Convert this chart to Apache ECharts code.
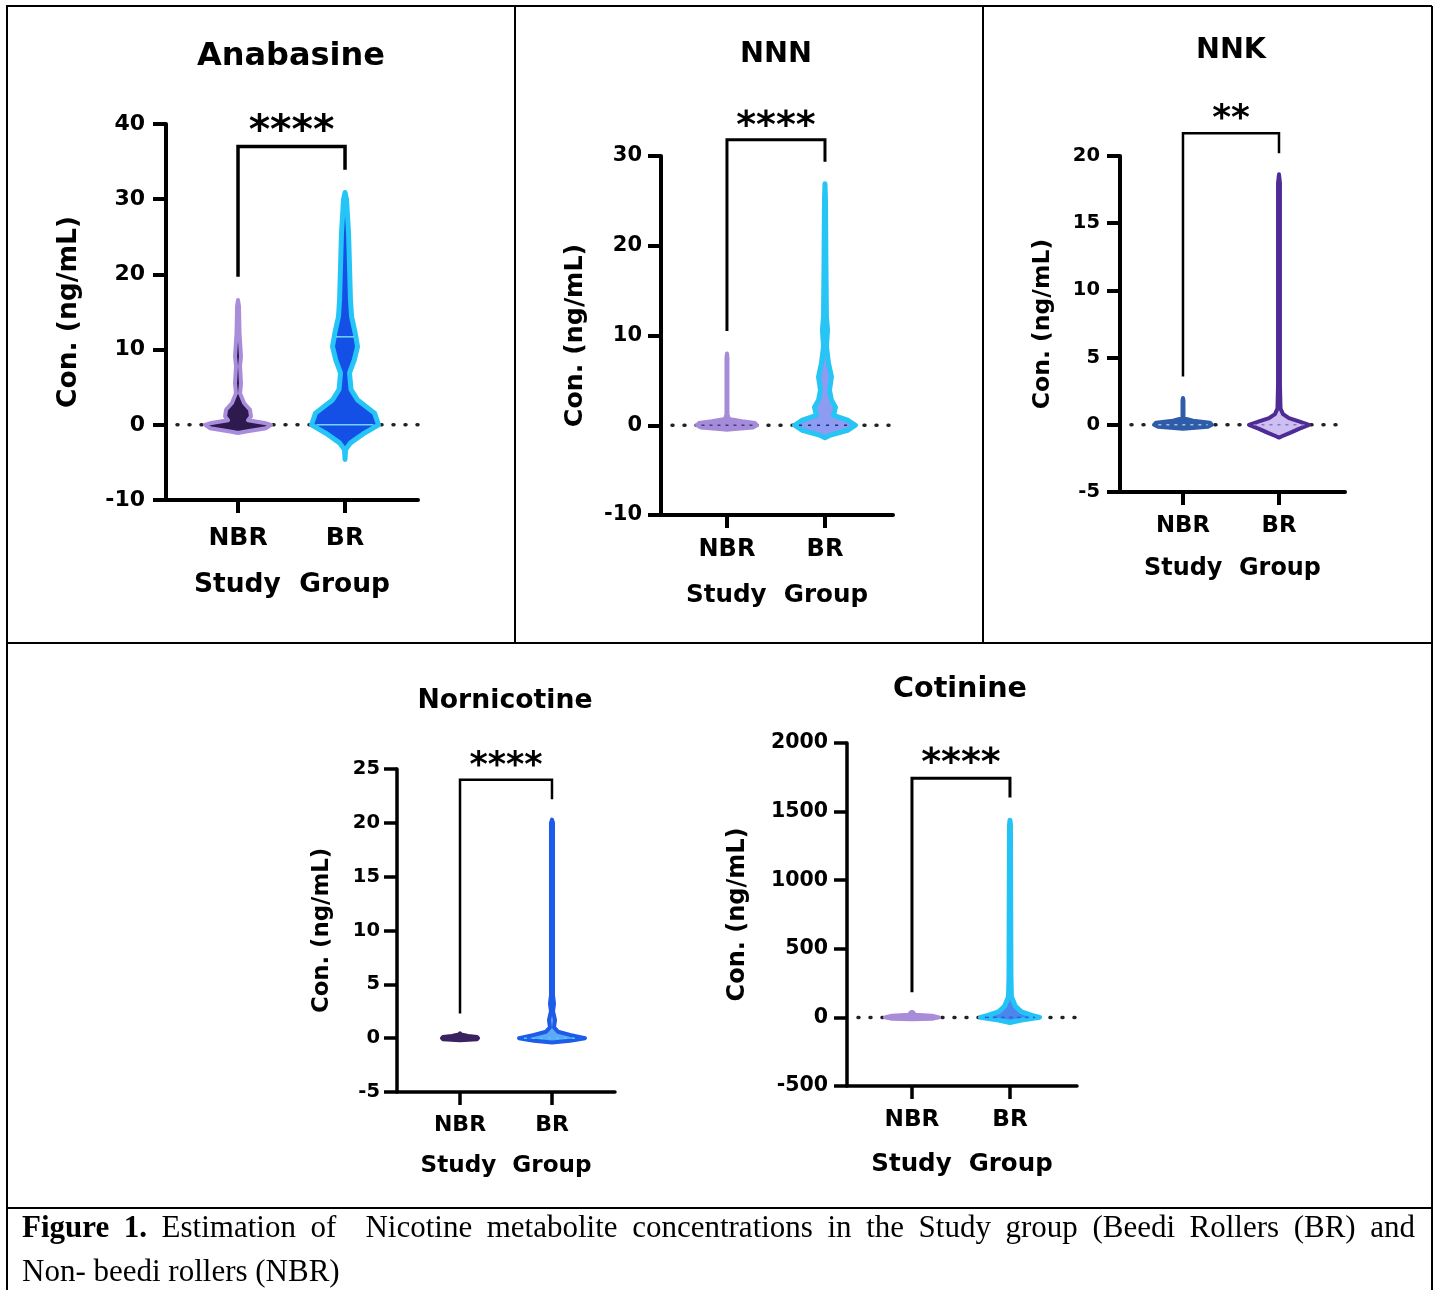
<!DOCTYPE html>
<html><head><meta charset="utf-8">
<script src="https://cdn.jsdelivr.net/npm/echarts@6/dist/echarts.min.js"></script>
<style>html,body{margin:0;padding:0;background:#fff}#c{width:1438px;height:1290px}</style>
</head><body><div id="c"></div>
<script>
// ---------------- DATA ----------------
const groups = ['NBR', 'BR'];
const panelTitles = ['Anabasine', 'NNN', 'NNK', 'Nornicotine', 'Cotinine'];
const yAxisName = 'Con. (ng/mL)';
const xAxisName = 'Study  Group';
const yMin = [-10, -10, -5, -5, -500];
const yMax = [40, 30, 20, 25, 2000];
const yStep = [10, 10, 5, 5, 500];
const sigLabels = ['****', '****', '**', '****', '****'];
const bracketLeft = [19.7, 10.5, 3.6, 2.3, 183];
const bracketTop = [37.0, 31.8, 21.7, 24.0, 1743];
const bracketRight = [33.9, 29.35, 20.2, 22.2, 1602];

// violin profiles: [concentration, half-width of density (in group-spacing units)]
const anabasineNBR = [[16.6,0],[15.8,0.009],[12.2,0.014],[9.1,0.028],[7.8,0.019],[5.5,0.028],[4.2,0.019],[2.9,0.056],[2.0,0.112],[1.1,0.121],[0.6,0.093],[0.2,0.262],[0,0.308],[-0.45,0.262],[-0.9,0.075],[-1.1,0]];
const anabasineBR = [[30.9,0],[30.0,0.014],[25.5,0.033],[21.1,0.042],[16.6,0.051],[14.4,0.061],[12.2,0.095],[10.4,0.117],[8.6,0.086],[6.9,0.042],[4.7,0.056],[3.3,0.117],[1.55,0.276],[0,0.313],[-1.1,0.182],[-2.4,0.051],[-3.3,0.005],[-4.6,0]];
const nnnNBR = [[8.0,0],[7.5,0.005],[1.2,0.005],[0.7,0.02],[0.45,0.153],[0.25,0.286],[0,0.306],[-0.25,0.265],[-0.45,0.05],[-0.5,0]];
const nnnBR = [[26.9,0],[25.2,0.005],[17.7,0.010],[12.1,0.015],[10.6,0.026],[8.8,0.015],[6.9,0.036],[5.4,0.066],[3.9,0.046],[2.8,0.066],[2.0,0.107],[1.1,0.087],[0.56,0.230],[0,0.311],[-0.56,0.230],[-1.1,0.056],[-1.4,0]];
const nnkNBR = [[2.0,0],[1.8,0.005],[0.5,0.005],[0.3,0.104],[0.15,0.281],[0,0.302],[-0.15,0.26],[-0.3,0]];
const nnkBR = [[18.65,0],[18,0.010],[3,0.010],[1.2,0.016],[0.8,0.042],[0.5,0.104],[0.25,0.208],[0,0.313],[-0.3,0.208],[-0.6,0.115],[-0.85,0.031],[-0.95,0]];
const norNBR = [[0.45,0],[0.35,0.011],[0.2,0.087],[0.1,0.185],[0,0.196],[-0.1,0.185],[-0.2,0]];
const norBR = [[20.3,0],[20,0.011],[4,0.011],[3.2,0.022],[2.5,0.011],[1.7,0.033],[1.0,0.022],[0.6,0.065],[0.3,0.196],[0,0.359],[-0.25,0.196],[-0.4,0]];
const cotNBR = [[40,0],[35,0.015],[20,0.031],[12,0.204],[0,0.276],[-10,0.204],[-14,0]];
const cotBR = [[1437,0],[1400,0.005],[300,0.010],[150,0.015],[80,0.056],[40,0.117],[15,0.224],[0,0.301],[-20,0.117],[-37,0]];

// median / quartile lines inside each violin
const linesNBR = [[], [0], [0], [], []];
const linesBR = [[0, 11.7], [0], [0], [0], [0]];

const captionBold = 'Figure 1.';
const captionLine1 = 'Estimation of  Nicotine metabolite concentrations in the Study group (Beedi Rollers (BR) and';
const captionLine2 = 'Non- beedi rollers (NBR)';

// ---------------- LAYOUT / STYLE ----------------
const profiles = [[anabasineNBR, anabasineBR],[nnnNBR, nnnBR],[nnkNBR, nnkBR],[norNBR, norBR],[cotNBR, cotBR]];
const FONT = 'DejaVu Sans';
const P = [
 {grid:{left:166,top:124,width:252,height:376}, xr:[-0.673,1.682], tickFs:22, catFs:25, nameFs:26.5, xNameFs:26.5, titleFs:32, title:[291,56.5], yNameGap:83, xNameGap:72, yLabelMargin:21, xLabelMargin:26, axisW:4, tickLen:13, bracketW:3.5, starFs:41, starGap:22, zero:true},
 {grid:{left:661,top:156,width:232,height:359}, xr:[-0.673,1.694], tickFs:21, catFs:24, nameFs:25.3, xNameFs:24.6, titleFs:28.7, title:[776,54.5], yNameGap:73, xNameGap:68, yLabelMargin:19, xLabelMargin:23, axisW:4, tickLen:13, bracketW:3, starFs:38, starGap:20, zero:true},
 {grid:{left:1120,top:156,width:225,height:336}, xr:[-0.656,1.6875], tickFs:19.5, catFs:22.8, nameFs:23.5, xNameFs:23.9, titleFs:28.6, title:[1231,51], yNameGap:65, xNameGap:65, yLabelMargin:20, xLabelMargin:23, axisW:4, tickLen:13, bracketW:2.5, starFs:36, starGap:21, zero:true},
 {grid:{left:397,top:769,width:218,height:323}, xr:[-0.685,1.685], tickFs:19.5, catFs:22, nameFs:22.8, xNameFs:23.1, titleFs:26.7, title:[505,701], yNameGap:63, xNameGap:62, yLabelMargin:17, xLabelMargin:22, axisW:3.5, tickLen:13, bracketW:2.5, starFs:35, starGap:20, zero:false},
 {grid:{left:847,top:743,width:230,height:343}, xr:[-0.663,1.684], tickFs:20.5, catFs:23.2, nameFs:24, xNameFs:24.5, titleFs:28.6, title:[960,689.5], yNameGap:97, xNameGap:66, yLabelMargin:19, xLabelMargin:22.5, axisW:3.5, tickLen:13, bracketW:3, starFs:38, starGap:22, zero:true}
];
const violinStyles = [
 [{stroke:'#a98ddb', fill:'#2e1a4f', lw:4}, {stroke:'#25c5f7', fill:'#1450e6', lw:5, lineColor:'#6fd6fa'}],
 [{stroke:'#a68bd9', fill:'#a68bd9', lw:4, lineColor:'#3b3f8c', lineDash:[3,5]}, {stroke:'#27c4f6', fill:'#8d9cf0', lw:5, lineColor:'#1e2a80', lineDash:[3,6]}],
 [{stroke:'#2f5ca8', fill:'#2f5ca8', lw:4, lineColor:'#a9c0e6', lineDash:[3,5]}, {stroke:'#4e2b95', fill:'#cdbff2', lw:4, lineColor:'#8a7ab8', lineDash:[3,5]}],
 [{stroke:'#3a2160', fill:'#3a2160', lw:4}, {stroke:'#1d5ce8', fill:'#5ea8f5', lw:4, lineColor:'#3fd0f5', lineDash:[3,5]}],
 [{stroke:'#a88cd9', fill:'#a88cd9', lw:4}, {stroke:'#23c3f6', fill:'#4a86ee', lw:5, lineColor:'#2a5fe0', lineDash:[4,4]}]
];

function halfWidthAt(prof, q) {
  for (let k = 0; k < prof.length - 1; k++) {
    const a = prof[k], b = prof[k + 1];
    if (a[0] >= q && q >= b[0]) {
      const t = (a[0] === b[0]) ? 0 : (a[0] - q) / (a[0] - b[0]);
      return a[1] + (b[1] - a[1]) * t;
    }
  }
  return 0;
}

const chart = echarts.init(document.getElementById('c'));
const grids = [], xAxes = [], yAxes = [], series = [], graphics = [];

P.forEach((c, p) => {
  grids.push(Object.assign({containLabel:false, outerBoundsMode:'none'}, c.grid));
  const axisLineStyle = {color:'#000', width:c.axisW};
  xAxes.push({
    type:'value', gridIndex:p, min:c.xr[0], max:c.xr[1],
    axisLine:{show:true, onZero:false, lineStyle:axisLineStyle},
    axisTick:{show:true, customValues:[0,1], length:c.tickLen, lineStyle:axisLineStyle},
    axisLabel:{show:true, customValues:[0,1], formatter:v => groups[Math.round(v)], margin:c.xLabelMargin,
      fontSize:c.catFs, fontWeight:'bold', fontFamily:FONT, color:'#000'},
    splitLine:{show:false},
    name:xAxisName, nameLocation:'middle', nameGap:c.xNameGap,
    nameTextStyle:{fontSize:c.xNameFs, fontWeight:'bold', fontFamily:FONT, color:'#000'}
  });
  yAxes.push({
    type:'value', gridIndex:p, min:yMin[p], max:yMax[p], interval:yStep[p],
    axisLine:{show:true, onZero:false, lineStyle:axisLineStyle},
    axisTick:{show:true, length:c.tickLen, lineStyle:axisLineStyle},
    axisLabel:{show:true, margin:c.yLabelMargin, formatter:v => String(v), fontSize:c.tickFs, fontWeight:'bold', fontFamily:FONT, color:'#000'},
    splitLine:{show:false},
    name:yAxisName, nameLocation:'middle', nameGap:c.yNameGap,
    nameTextStyle:{fontSize:c.nameFs, fontWeight:'bold', fontFamily:FONT, color:'#000'}
  });
  if (c.zero) {
    const start = c.xr[0] + 11 * (c.xr[1] - c.xr[0]) / c.grid.width;
    series.push({type:'line', xAxisIndex:p, yAxisIndex:p, data:[[start,0],[c.xr[1],0]], symbol:'none', silent:true, z:1,
      lineStyle:{color:'#222', width:3.5, type:[1,11], cap:'round'}});
  }
  series.push({
    type:'custom', xAxisIndex:p, yAxisIndex:p, z:2, clip:false, silent:true,
    data:[[0,0],[1,0]],
    renderItem:(params, api) => {
      const i = params.dataIndex, prof = profiles[p][i], st = violinStyles[p][i], x = api.value(0);
      const pts = [];
      for (const [v, w] of prof) pts.push(api.coord([x + w, v]));
      for (let k = prof.length - 1; k >= 0; k--) pts.push(api.coord([x - prof[k][1], prof[k][0]]));
      const children = [{type:'polygon', shape:{points:pts}, style:{fill:st.fill, stroke:st.stroke, lineWidth:st.lw, lineJoin:'round'}}];
      const ls = (i === 0 ? linesNBR : linesBR)[p];
      for (const q of ls) {
        const w = halfWidthAt(prof, q) * 0.85;
        const a = api.coord([x - w, q]), b = api.coord([x + w, q]);
        children.push({type:'line', shape:{x1:a[0], y1:a[1], x2:b[0], y2:b[1]},
          style:{stroke:st.lineColor, lineWidth:1.5, lineDash:st.lineDash || null}});
      }
      return {type:'group', children};
    }
  });
  series.push({
    type:'custom', xAxisIndex:p, yAxisIndex:p, z:3, clip:false, silent:true,
    data:[[0, bracketTop[p]]],
    renderItem:(params, api) => {
      const a = api.coord([0, bracketLeft[p]]), b = api.coord([0, bracketTop[p]]),
            d2 = api.coord([1, bracketTop[p]]), e = api.coord([1, bracketRight[p]]);
      return {type:'group', children:[
        {type:'polyline', shape:{points:[a,b,d2,e]}, style:{stroke:'#000', lineWidth:c.bracketW, fill:null, lineJoin:'miter'}},
        {type:'text', style:{text:sigLabels[p], x:(b[0]+d2[0])/2, y:b[1] - c.starGap + 0.2 * c.starFs,
          align:'center', verticalAlign:'middle', fontSize:c.starFs, fontWeight:'bold', fontFamily:FONT, fill:'#000'}}
      ]};
    }
  });
  graphics.push({type:'text', silent:true, style:{text:panelTitles[p], x:c.title[0], y:c.title[1], align:'center', verticalAlign:'middle',
    fontSize:c.titleFs, fontWeight:'bold', fontFamily:FONT, fill:'#000'}});
});

// panel borders
const borderLines = [
  [7,6,1432,6],[7,5,7,1290],[1432,6,1432,1290],[515,6,515,643],[983,6,983,643],[7,643,1432,643],[7,1208,1432,1208]
];
borderLines.forEach(l => graphics.push({type:'line', silent:true, shape:{x1:l[0],y1:l[1],x2:l[2],y2:l[3]}, style:{stroke:'#000', lineWidth:2}}));

// justified caption, line 1
const CAP_FS = 31, CAP_FONT = 'Liberation Serif';
const mctx = document.createElement('canvas').getContext('2d');
function mw(t, bold) { mctx.font = (bold ? 'bold ' : '') + CAP_FS + 'px "' + CAP_FONT + '"'; return mctx.measureText(t).width; }
const tokens = [];
captionBold.split(' ').forEach((t, k) => tokens.push({t, b:true, s: k === 0 ? 0 : 1}));
let pend = 0;
captionLine1.split(' ').forEach(t => { if (t === '') { pend++; } else { tokens.push({t, b:false, s:1 + pend}); pend = 0; } });
const x0 = 22, x1 = 1415;
let W = 0, S = 0;
tokens.forEach(k => { k.w = mw(k.t, k.b); W += k.w; S += k.s; });
const sp = (x1 - x0 - W) / S;
let cx = x0;
tokens.forEach(k => {
  cx += k.s * sp;
  graphics.push({type:'text', silent:true, style:{text:k.t, x:cx, y:1229, align:'left', verticalAlign:'middle',
    fontSize:CAP_FS, fontWeight:k.b ? 'bold' : 'normal', fontFamily:CAP_FONT, fill:'#000'}});
  cx += k.w;
});
graphics.push({type:'text', silent:true, style:{text:captionLine2, x:22, y:1273, align:'left', verticalAlign:'middle',
  fontSize:CAP_FS, fontFamily:CAP_FONT, fill:'#000'}});

chart.setOption({
  animation:false,
  backgroundColor:'#fff',
  grid:grids, xAxis:xAxes, yAxis:yAxes, series, graphic:graphics
});
</script></body></html>
